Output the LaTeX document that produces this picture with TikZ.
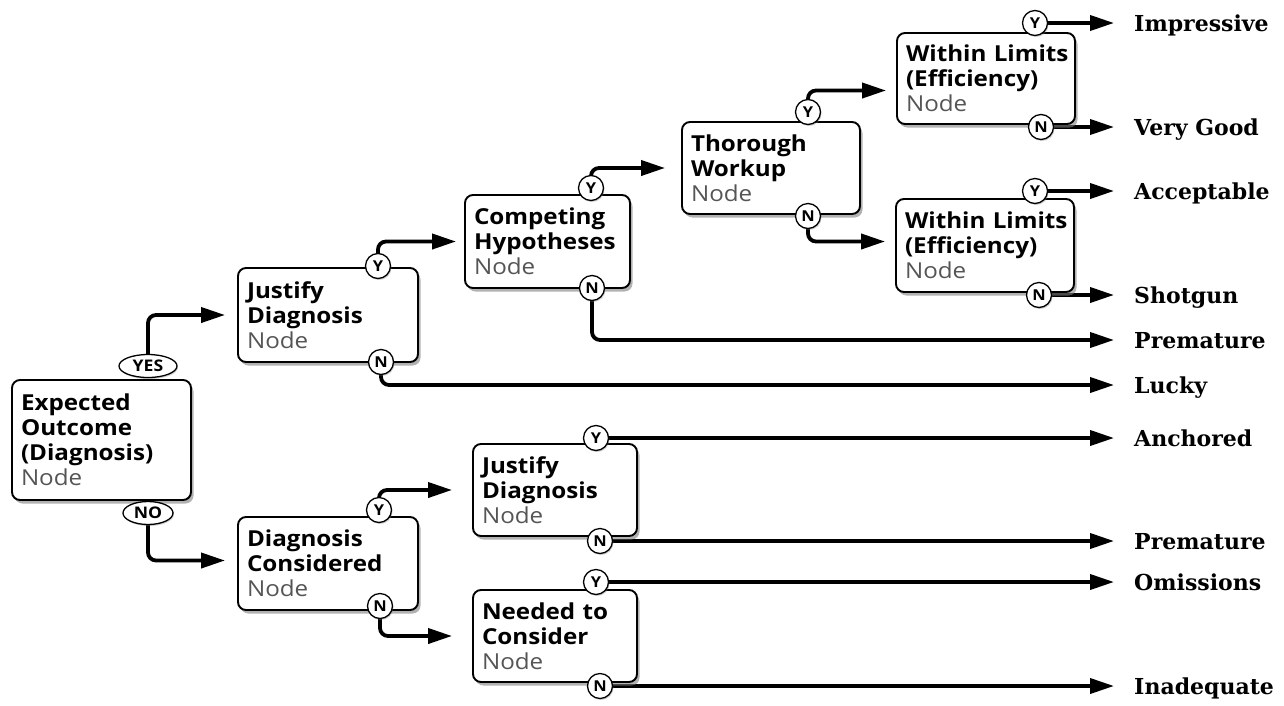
\documentclass[tikz,border=0pt]{standalone}
\usepackage{fontspec}
\newfontfamily\boxfont[FakeStretch=1.1]{Open Sans}
\newfontfamily\lblfont{DejaVu Serif}
\usetikzlibrary{arrows.meta,shadows,shapes.geometric,backgrounds}
\pgfdeclarelayer{paper}
\pgfsetlayers{paper,background,main}
\definecolor{nodegray}{HTML}{555555}
\newcommand{\nodeword}{\textcolor{nodegray}{\mdseries Node}}
\tikzset{
  box/.style={draw, line width=1.9pt, rounded corners=8pt, fill=white, align=left,
    inner sep=0pt, font=\boxfont\fontsize{22}{25}\selectfont\bfseries,
    execute at begin node={\hyphenpenalty=10000\exhyphenpenalty=10000},
    drop shadow={shadow xshift=2.5pt, shadow yshift=-3.5pt, opacity=.6}},
  badge/.style={circle, draw, line width=1.3pt, fill=white, inner sep=0pt,
    minimum size=25pt, font=\boxfont\fontsize{15}{15}\selectfont\bfseries,
    drop shadow={shadow xshift=1pt, shadow yshift=-1.5pt, opacity=.35}},
  oval/.style={ellipse, draw, line width=1.3pt, fill=white, inner sep=0pt,
    minimum height=23pt, font=\boxfont\fontsize{16}{16}\selectfont\bfseries,
    drop shadow={shadow xshift=1pt, shadow yshift=-1.5pt, opacity=.35}},
  conn/.style={line width=3.8pt, rounded corners=8pt, -{Triangle[length=24pt,width=15pt]}},
  outcome/.style={anchor=west, inner sep=0pt, font=\lblfont\fontsize{22}{24}\selectfont\bfseries,
    text height=16pt, text depth=0pt},
}
\begin{document}
\begin{tikzpicture}[x=1pt,y=-1pt]
\begin{pgfonlayer}{paper}
\fill[white] (0,0) rectangle (1284,705);
\end{pgfonlayer}
\useasboundingbox (0,0) rectangle (1284,705);

% boxes
\node[box, minimum width=179pt, minimum height=120pt, text width=161pt] (eo) at (101.5,440)
  {Expected\\Outcome\\(Diagnosis)\\\nodeword};
\node[box, minimum width=180pt, minimum height=94pt, text width=162pt] (jd1) at (328,315)
  {Justify\\Diagnosis\\\nodeword};
\node[box, minimum width=165pt, minimum height=93pt, text width=147pt] (ch) at (547.5,241.5)
  {Competing\\Hypotheses\\\nodeword};
\node[box, minimum width=178pt, minimum height=92pt, text width=160pt] (tw) at (771,168)
  {Thorough\\Workup\\\nodeword};
\node[box, minimum width=178pt, minimum height=91pt, text width=160pt] (wl1) at (986,78.5)
  {Within~Limits\\(Efficiency)\\\nodeword};
\node[box, minimum width=178pt, minimum height=93pt, text width=160pt] (wl2) at (985,245.5)
  {Within~Limits\\(Efficiency)\\\nodeword};
\node[box, minimum width=180pt, minimum height=93pt, text width=162pt] (dc) at (328,563.5)
  {Diagnosis\\Considered\\\nodeword};
\node[box, minimum width=164pt, minimum height=92pt, text width=146pt] (jd2) at (555,490)
  {Justify\\Diagnosis\\\nodeword};
\node[box, minimum width=164pt, minimum height=92pt, text width=146pt] (nc) at (555,636)
  {Needed~to\\Consider\\\nodeword};

% badges
\node[oval, minimum width=58pt] (eoY) at (148,366) {YES};
\node[oval, minimum width=50pt] (eoN) at (148,513) {NO};
\node[badge] (jd1Y) at (378,266) {Y};
\node[badge] (jd1N) at (381,362) {N};
\node[badge] (chY) at (591,188) {Y};
\node[badge] (chN) at (592,288) {N};
\node[badge] (twY) at (808,112) {Y};
\node[badge] (twN) at (808,216) {N};
\node[badge] (wl1Y) at (1035,23) {Y};
\node[badge] (wl1N) at (1041,127) {N};
\node[badge] (wl2Y) at (1035,191) {Y};
\node[badge] (wl2N) at (1039,295) {N};
\node[badge] (dcY) at (379,510) {Y};
\node[badge] (dcN) at (380,606) {N};
\node[badge] (jd2Y) at (596,438) {Y};
\node[badge] (jd2N) at (600,541) {N};
\node[badge] (ncY) at (596,582) {Y};
\node[badge] (ncN) at (600,686) {N};

% outcome labels
\node[outcome] (impressive) at (1134,23) {Impressive};
\node[outcome] (verygood) at (1134,127) {Very Good};
\node[outcome] (acceptable) at (1134,191) {Acceptable};
\node[outcome] (shotgun) at (1134,295) {Shotgun};
\node[outcome] (premA) at (1134,340) {Premature};
\node[outcome] (lucky) at (1134,385) {Lucky};
\node[outcome] (anchored) at (1134,438) {Anchored};
\node[outcome] (premB) at (1134,541) {Premature};
\node[outcome] (omissions) at (1134,582) {Omissions};
\node[outcome] (inadequate) at (1134,686) {Inadequate};

% connectors
\begin{pgfonlayer}{background}
\draw[conn] (eoY.north) |- ([xshift=-12pt]jd1.west);
\draw[conn] (eoN.south) |- ([xshift=-12pt,yshift=3pt]dc.west);
\draw[conn] (jd1Y.north) |- ([xshift=-8pt]ch.west);
\draw[conn] (jd1N.south) |- ([xshift=-20pt]lucky.west);
\draw[conn] (chY.north) |- ([xshift=-16pt]tw.west);
\draw[conn] (chN.south) |- ([xshift=-20pt]premA.west);
\draw[conn] (twY.north) |- ([xshift=-10pt,yshift=-12pt]wl1.west);
\draw[conn] (twN.south) |- ([xshift=-10pt,yshift=4pt]wl2.west);
\draw[conn] (wl1Y.east) -- ([xshift=-20pt]impressive.west);
\draw[conn] (wl1N.east) -- ([xshift=-20pt]verygood.west);
\draw[conn] (wl2Y.east) -- ([xshift=-20pt]acceptable.west);
\draw[conn] (wl2N.east) -- ([xshift=-20pt]shotgun.west);
\draw[conn] (dcY.north) |- ([xshift=-20pt]jd2.west);
\draw[conn] (dcN.south) |- ([xshift=-20pt]nc.west);
\draw[conn] (jd2Y.east) -- ([xshift=-20pt]anchored.west);
\draw[conn] (jd2N.east) -- ([xshift=-20pt]premB.west);
\draw[conn] (ncY.east) -- ([xshift=-20pt]omissions.west);
\draw[conn] (ncN.east) -- ([xshift=-20pt]inadequate.west);
\end{pgfonlayer}
\end{tikzpicture}
\end{document}
